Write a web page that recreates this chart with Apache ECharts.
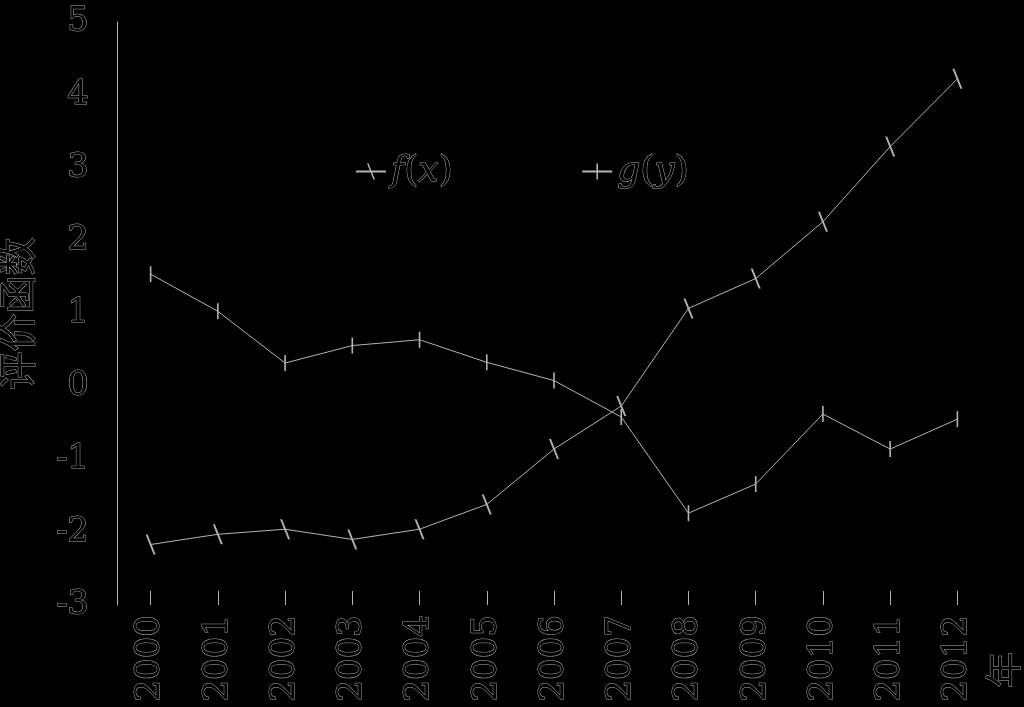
<!DOCTYPE html>
<html>
<head>
<meta charset="utf-8">
<script src="https://cdn.jsdelivr.net/npm/echarts@6/dist/echarts.min.js"></script>
<style>
  html, body { margin: 0; padding: 0; background: #000; }
  #main { width: 1024px; height: 707px; }
</style>
</head>
<body>
<div id="main"></div>
<script>
const years = ['2000', '2001', '2002', '2003', '2004', '2005', '2006',
  '2007', '2008', '2009', '2010', '2011', '2012']
const fx = [-2.17, -2.03, -1.96, -2.10, -1.96, -1.62, -0.86, -0.27, 1.07, 1.48, 2.26, 3.29, 4.22]
const gy = [1.54, 1.03, 0.32, 0.56, 0.64, 0.33, 0.08, -0.42, -1.74, -1.34, -0.38, -0.86, -0.45]
const yTicks = { min: -3, max: 5, step: 1 }

const iChart = echarts.init(document.getElementById('main'))

// outlined text, the picture only keeps glyph edges
const edgeText = {
  color: '#000',
  textBorderColor: '#a8a8a8',
  textBorderWidth: 1,
  fontFamily: 'DejaVu Serif'
}
const lineGray = '#b4b4b4'

// square boxes (empty end points) so the legend does not stretch them
const slashMark = 'path://M-5,10 L-5,10 M15,10 L15,10 M0,0 L2,0 L10,20 L8,20 Z'
const barMark = 'path://M0,10 L0,10 M20,10 L20,10 M9,0 L11,0 L11,20 L9,20 Z'

const option = {
  backgroundColor: '#000',
  animation: false,
  grid: { left: 117, right: 33, top: 22, bottom: 102, outerBoundsMode: 'none', containLabel: false },
  legend: {
    left: 350,
    top: 148,
    itemWidth: 30,
    itemHeight: 20,
    itemGap: 128,
    formatter: name => {
      const m = name.match(/^(\w)\((\w)\)$/)
      return '{i|' + m[1] + '}{n|(}{i|' + m[2] + '}{n|)}'
    },
    textStyle: {
      rich: {
        i: Object.assign({}, edgeText, { fontSize: 36, fontStyle: 'italic' }),
        n: Object.assign({}, edgeText, { fontSize: 36 })
      }
    }
  },
  xAxis: {
    type: 'category',
    data: years,
    boundaryGap: true,
    axisLine: { show: false, onZero: false },
    axisTick: { show: true, alignWithLabel: true, inside: true, length: 14, lineStyle: { color: lineGray } },
    axisLabel: Object.assign({}, edgeText, { rotate: 90, fontSize: 34, margin: 10 })
  },
  yAxis: {
    type: 'value',
    min: yTicks.min,
    max: yTicks.max,
    interval: yTicks.step,
    name: '评价函数',
    nameLocation: 'middle',
    nameGap: 81,
    nameTextStyle: Object.assign({}, edgeText, { fontSize: 38, fontFamily: 'Noto Sans CJK SC' }),
    axisLine: { show: true, lineStyle: { color: lineGray } },
    axisTick: { show: false },
    splitLine: { show: false },
    axisLabel: Object.assign({}, edgeText, { fontSize: 34, margin: 28 })
  },
  graphic: [{
    type: 'text',
    x: 985,
    y: 688,
    rotation: Math.PI / 2,
    style: { text: '年', font: '36px "Noto Sans CJK SC"', fill: '#000', stroke: '#a8a8a8', lineWidth: 1 }
  }],
  series: [
    {
      name: 'f(x)',
      type: 'line',
      data: fx,
      symbol: slashMark,
      symbolSize: 20,
      lineStyle: { color: lineGray, width: 1 },
      itemStyle: { color: lineGray }
    },
    {
      name: 'g(y)',
      type: 'line',
      data: gy,
      symbol: barMark,
      symbolSize: 16,
      lineStyle: { color: lineGray, width: 1 },
      itemStyle: { color: lineGray }
    }
  ]
}

iChart.setOption(option)
</script>
</body>
</html>
